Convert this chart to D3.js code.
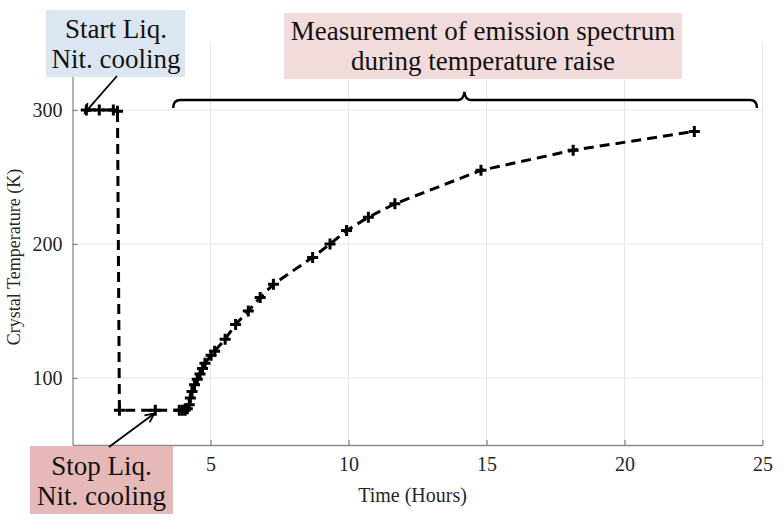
<!DOCTYPE html>
<html><head><meta charset="utf-8">
<script src="https://cdn.jsdelivr.net/npm/d3@7"></script>
<style>body{margin:0;background:#fff}svg{display:block}</style>
</head><body>
<svg id="c" width="784" height="525"></svg>
<script>
const hours = [0.5, 0.97, 1.48, 1.63, 1.7, 3.0, 3.87, 3.98, 4.08, 4.16, 4.23, 4.27, 4.33, 4.42, 4.52, 4.62, 4.71, 4.8, 5.02, 5.15, 5.53, 5.91, 6.37, 6.8, 7.28, 8.7, 9.33, 9.93, 10.72, 11.68, 14.8, 18.14, 22.53];
const temps = [300, 300, 300, 299, 76, 76, 76, 76, 76, 77, 80, 85, 90, 95, 99, 103, 107, 111, 117, 120, 129, 140, 150, 160, 170, 190, 200, 210, 220, 230, 255, 270, 284];
const xTicks = [5, 10, 15, 20, 25];
const yTicks = [100, 200, 300];
const xLabel = "Time (Hours)";
const yLabel = "Crystal Temperature (K)";
const startNote = ["Start Liq.", "Nit. cooling"];
const stopNote = ["Stop Liq.", "Nit. cooling"];
const measNote = ["Measurement of emission spectrum", "during temperature raise"];

const svg = d3.select("#c");
const L = 72.5, R = 762.5, T = 43, B = 445;
const x = d3.scaleLinear().domain([0, 25]).range([L, R]);
const y = d3.scaleLinear().domain([50, 350]).range([B, T]);
const serif = "'Liberation Serif','Times New Roman',serif";

// grid
svg.append("g").selectAll("line").data(xTicks).join("line")
  .attr("x1", d => x(d)).attr("x2", d => x(d)).attr("y1", T).attr("y2", B)
  .attr("stroke", "#e6e6e6").attr("stroke-width", 1);
svg.append("g").selectAll("line").data(yTicks).join("line")
  .attr("x1", L).attr("x2", R).attr("y1", d => y(d)).attr("y2", d => y(d))
  .attr("stroke", "#e6e6e6").attr("stroke-width", 1);

// axes
const xAxis = svg.append("g").attr("transform", `translate(0,${B})`)
  .call(d3.axisBottom(x).tickValues(xTicks).tickSizeInner(-5).tickSizeOuter(0).tickPadding(12));
const yAxis = svg.append("g").attr("transform", `translate(${L},0)`)
  .call(d3.axisLeft(y).tickValues(yTicks).tickSizeInner(-5).tickSizeOuter(0).tickPadding(10));
[xAxis, yAxis].forEach(a => {
  a.select(".domain").attr("stroke", "#8a8a8a").attr("stroke-width", 1.3);
  a.selectAll(".tick line").attr("stroke", "#8a8a8a").attr("stroke-width", 1.3);
  a.selectAll("text").attr("font-family", serif).attr("font-size", 20).attr("fill", "#262626");
});

svg.append("text").attr("x", x(12.5) - 5).attr("y", 502).attr("text-anchor", "middle")
  .attr("font-family", serif).attr("font-size", 20).attr("fill", "#262626").text(xLabel);
svg.append("text").attr("transform", `translate(20,${(T + B) / 2 + 13}) rotate(-90)`)
  .attr("text-anchor", "middle").attr("font-family", serif).attr("font-size", 18)
  .attr("fill", "#262626").text(yLabel);

// data line
const pts = hours.map((h, i) => [h, temps[i]]);
svg.append("path").datum(pts)
  .attr("d", d3.line().x(d => x(d[0])).y(d => y(d[1])))
  .attr("fill", "none").attr("stroke", "#000").attr("stroke-width", 3)
  .attr("stroke-dasharray", "10,6");
const ms = 5.5;
svg.append("g").selectAll("path").data(pts).join("path")
  .attr("d", d => `M${x(d[0]) - ms},${y(d[1])}H${x(d[0]) + ms}M${x(d[0])},${y(d[1]) - ms}V${y(d[1]) + ms}`)
  .attr("stroke", "#000").attr("stroke-width", 3).attr("fill", "none");

// brace
const bx0 = x(3.65), bx1 = x(24.8), bm = x(14.2), by = y(307.5), bd = 8;
svg.append("path")
  .attr("d", `M${bx0},${by + bd} Q${bx0},${by} ${bx0 + 7},${by} L${bm - 6},${by} Q${bm - 1},${by} ${bm},${by - 8} Q${bm + 1},${by} ${bm + 6},${by} L${bx1 - 7},${by} Q${bx1},${by} ${bx1},${by + bd}`)
  .attr("fill", "none").attr("stroke", "#000").attr("stroke-width", 2.4);

// annotation boxes
function note(lines, x0, y0, w, h, fill, cx, off, lh, fs) {
  svg.append("rect").attr("x", x0).attr("y", y0).attr("width", w).attr("height", h).attr("fill", fill);
  svg.append("g").selectAll("text").data(lines).join("text")
    .attr("x", cx).attr("y", (d, i) => y0 + off + i * lh).attr("text-anchor", "middle")
    .attr("font-family", serif).attr("font-size", fs).attr("fill", "#111").text(d => d);
}
note(startNote, 46, 10, 139, 67, "#dce6f2", 116, 28, 30, 27);
note(measNote, 284, 13, 398, 66, "#f2dcdb", 483, 27, 30, 27);
note(stopNote, 30, 446, 143, 68, "#e6b9b8", 101.5, 29, 30, 27);

// arrows
function arrow(x1, y1, x2, y2) {
  svg.append("line").attr("x1", x1).attr("y1", y1).attr("x2", x2).attr("y2", y2)
    .attr("stroke", "#000").attr("stroke-width", 1.8);
  const a = Math.atan2(y2 - y1, x2 - x1), s = 10, w = 0.45;
  svg.append("path")
    .attr("d", `M${x2 - s * Math.cos(a - w)},${y2 - s * Math.sin(a - w)} L${x2},${y2} L${x2 - s * Math.cos(a + w)},${y2 - s * Math.sin(a + w)}`)
    .attr("fill", "none").attr("stroke", "#000").attr("stroke-width", 1.8);
}
arrow(117, 76, x(0.45), y(298));
arrow(109, 447, x(3.0) - 1, y(75) + 2);
</script>
</body></html>
